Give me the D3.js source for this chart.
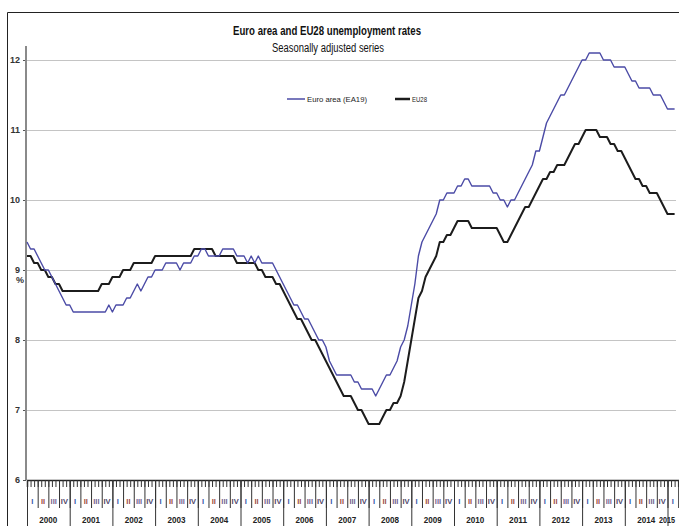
<!DOCTYPE html>
<html>
<head>
<meta charset="utf-8">
<script src="https://cdnjs.cloudflare.com/ajax/libs/d3/7.8.5/d3.min.js"></script>
<style>
  body { margin: 0; background: #fff; }
  svg { display: block; font-family: "Liberation Sans Narrow", "Arial Narrow", "Liberation Sans", Arial, sans-serif; }
</style>
</head>
<body>
<div id="chart"></div>
<script>
// monthly series, Jan 2000 .. Mar 2015
var yearLabels = ["2000", "2001", "2002", "2003", "2004", "2005", "2006", "2007",
                  "2008", "2009", "2010", "2011", "2012", "2013", "2014", "2015"];
var quarterLabels = ["I", "II", "III", "IV"];
var yTicks = [6, 7, 8, 9, 10, 11, 12];

var ea19 = [
  9.4, 9.3, 9.3, 9.2, 9.1, 9.0, 9.0, 8.9, 8.8, 8.7, 8.6, 8.5,         // 2000
  8.5, 8.4, 8.4, 8.4, 8.4, 8.4, 8.4, 8.4, 8.4, 8.4, 8.4, 8.5,         // 2001
  8.4, 8.5, 8.5, 8.5, 8.6, 8.6, 8.7, 8.8, 8.7, 8.8, 8.9, 8.9,         // 2002
  9.0, 9.0, 9.0, 9.1, 9.1, 9.1, 9.1, 9.0, 9.1, 9.1, 9.1, 9.2,         // 2003
  9.2, 9.3, 9.3, 9.2, 9.2, 9.2, 9.2, 9.3, 9.3, 9.3, 9.3, 9.2,         // 2004
  9.2, 9.2, 9.1, 9.2, 9.1, 9.2, 9.1, 9.1, 9.1, 9.1, 9.0, 8.9,         // 2005
  8.8, 8.7, 8.6, 8.5, 8.5, 8.4, 8.3, 8.3, 8.2, 8.1, 8.0, 8.0,         // 2006
  7.9, 7.7, 7.6, 7.5, 7.5, 7.5, 7.5, 7.5, 7.4, 7.4, 7.3, 7.3,         // 2007
  7.3, 7.3, 7.2, 7.3, 7.4, 7.5, 7.5, 7.6, 7.7, 7.9, 8.0, 8.2,         // 2008
  8.5, 8.8, 9.2, 9.4, 9.5, 9.6, 9.7, 9.8, 10.0, 10.0, 10.1, 10.1,     // 2009
  10.1, 10.2, 10.2, 10.3, 10.3, 10.2, 10.2, 10.2, 10.2, 10.2, 10.2, 10.1, // 2010
  10.1, 10.0, 10.0, 9.9, 10.0, 10.0, 10.1, 10.2, 10.3, 10.4, 10.5, 10.7,  // 2011
  10.7, 10.9, 11.1, 11.2, 11.3, 11.4, 11.5, 11.5, 11.6, 11.7, 11.8, 11.9, // 2012
  12.0, 12.0, 12.1, 12.1, 12.1, 12.1, 12.0, 12.0, 12.0, 11.9, 11.9, 11.9, // 2013
  11.9, 11.8, 11.7, 11.7, 11.6, 11.6, 11.6, 11.6, 11.5, 11.5, 11.5, 11.4, // 2014
  11.3, 11.3, 11.3                                                    // 2015
];

var eu28 = [
  9.2, 9.2, 9.1, 9.1, 9.0, 9.0, 8.9, 8.9, 8.8, 8.8, 8.7, 8.7,         // 2000
  8.7, 8.7, 8.7, 8.7, 8.7, 8.7, 8.7, 8.7, 8.7, 8.8, 8.8, 8.8,         // 2001
  8.9, 8.9, 8.9, 9.0, 9.0, 9.0, 9.1, 9.1, 9.1, 9.1, 9.1, 9.1,         // 2002
  9.2, 9.2, 9.2, 9.2, 9.2, 9.2, 9.2, 9.2, 9.2, 9.2, 9.2, 9.3,         // 2003
  9.3, 9.3, 9.3, 9.3, 9.3, 9.2, 9.2, 9.2, 9.2, 9.2, 9.2, 9.1,         // 2004
  9.1, 9.1, 9.1, 9.1, 9.1, 9.0, 9.0, 8.9, 8.9, 8.9, 8.8, 8.8,         // 2005
  8.7, 8.6, 8.5, 8.4, 8.3, 8.3, 8.2, 8.1, 8.0, 8.0, 7.9, 7.8,         // 2006
  7.7, 7.6, 7.5, 7.4, 7.3, 7.2, 7.2, 7.2, 7.1, 7.0, 7.0, 6.9,         // 2007
  6.8, 6.8, 6.8, 6.8, 6.9, 7.0, 7.0, 7.1, 7.1, 7.2, 7.4, 7.7,         // 2008
  8.0, 8.3, 8.6, 8.7, 8.9, 9.0, 9.1, 9.2, 9.4, 9.4, 9.5, 9.5,         // 2009
  9.6, 9.7, 9.7, 9.7, 9.7, 9.6, 9.6, 9.6, 9.6, 9.6, 9.6, 9.6,         // 2010
  9.6, 9.5, 9.4, 9.4, 9.5, 9.6, 9.7, 9.8, 9.9, 9.9, 10.0, 10.1,       // 2011
  10.2, 10.3, 10.3, 10.4, 10.4, 10.5, 10.5, 10.5, 10.6, 10.7, 10.8, 10.8, // 2012
  10.9, 11.0, 11.0, 11.0, 11.0, 10.9, 10.9, 10.9, 10.8, 10.8, 10.7, 10.7, // 2013
  10.6, 10.5, 10.4, 10.3, 10.3, 10.2, 10.2, 10.1, 10.1, 10.1, 10.0, 9.9,  // 2014
  9.8, 9.8, 9.8                                                       // 2015
];

var seriesNames = ["Euro area (EA19)", "EU28"];
var seriesColors = ["#4b4ba6", "#1c1c1c"];
var quarterColors = ["#3556a8", "#9a4a40", "#6f5f8f", "#4e4468"];

var W = 679, H = 526;
var svg = d3.select("#chart").append("svg")
  .attr("width", W)
  .attr("height", H);

svg.append("rect").attr("width", W).attr("height", H).attr("fill", "#fff");

// outer frame (only top and left edges are visible)
svg.append("path")
  .attr("d", "M7.5," + H + "V12.5H" + W)
  .attr("fill", "none")
  .attr("stroke", "#222")
  .attr("stroke-width", 1);

var nMonths = ea19.length;           // 183
var x = d3.scaleLinear().domain([0, 180]).range([27, 667.5]);
var y = d3.scaleLinear().domain([6, 12]).range([480, 60]);
var xAx = d3.scaleLinear().domain([0, nMonths]).range([x(0), x(nMonths)]);

// gridlines
svg.append("g").selectAll("line")
  .data(yTicks.filter(function (d) { return d > 6; }))
  .enter().append("line")
  .attr("x1", x(0)).attr("x2", 676)
  .attr("y1", function (d) { return Math.round(y(d)) + 0.5; })
  .attr("y2", function (d) { return Math.round(y(d)) + 0.5; })
  .attr("stroke", "#c4c4c4")
  .attr("stroke-width", 1.2);

// y axis
var yAxis = svg.append("g")
  .attr("transform", "translate(26,0)")
  .call(d3.axisLeft(y).tickValues(yTicks).tickSize(3).tickPadding(3).tickFormat(d3.format("d")));
yAxis.select(".domain").remove();
yAxis.selectAll(".tick line").attr("stroke", "#555");
yAxis.selectAll(".tick text")
  .attr("font-size", 9)
  .attr("font-weight", "bold")
  .attr("fill", "#333")
  .attr("font-family", "inherit");

svg.append("line")
  .attr("x1", 26).attr("x2", 26)
  .attr("y1", y(12.2)).attr("y2", y(6))
  .attr("stroke", "#8a8a8a")
  .attr("stroke-width", 2);

svg.append("text")
  .attr("x", 20).attr("y", 283)
  .attr("text-anchor", "middle")
  .attr("font-size", 9)
  .attr("font-weight", "bold")
  .attr("fill", "#333")
  .text("%");

// x axis: month, quarter and year ticks
function tickAxis(step, size) {
  var g = svg.append("g")
    .attr("transform", "translate(0,480)")
    .call(d3.axisBottom(xAx).tickValues(d3.range(0, nMonths + 1, step)).tickSize(size).tickFormat(""));
  g.selectAll(".tick line").attr("stroke", "#333").attr("stroke-width", 1);
  return g;
}
var monthAxis = tickAxis(1, 7);
monthAxis.select(".domain").attr("stroke", "#222").attr("stroke-width", 1.5);
tickAxis(3, 28).select(".domain").remove();
tickAxis(12, 46).select(".domain").remove();

// quarter labels
var quarters = d3.range(0, nMonths, 3);
svg.append("g").selectAll("text")
  .data(quarters)
  .enter().append("text")
  .attr("x", function (m) { return xAx(m + 1.5); })
  .attr("y", 504)
  .attr("text-anchor", "middle")
  .attr("font-size", 7.5)
  .attr("font-weight", "bold")
  .attr("fill", function (m) { return quarterColors[(m / 3) % 4]; })
  .text(function (m) { return quarterLabels[(m / 3) % 4]; });

// year labels (the last one is squeezed against the right edge, as in the source)
svg.append("g").selectAll("text")
  .data(yearLabels)
  .enter().append("text")
  .attr("x", function (d, i) {
    return i === yearLabels.length - 1 ? W - 4 : (xAx(i * 12) + xAx(Math.min(i * 12 + 12, nMonths))) / 2;
  })
  .attr("y", 523)
  .attr("text-anchor", function (d, i) { return i === yearLabels.length - 1 ? "end" : "middle"; })
  .attr("font-size", 9.5)
  .attr("font-weight", "bold")
  .attr("fill", "#222")
  .attr("textLength", function (d, i) { return i === yearLabels.length - 1 ? 16 : 18; })
  .attr("lengthAdjust", "spacingAndGlyphs")
  .text(function (d) { return d; });

// lines
var line = d3.line()
  .x(function (d, i) { return x(i); })
  .y(function (d) { return y(d); });

svg.append("path")
  .datum(eu28)
  .attr("d", line)
  .attr("fill", "none")
  .attr("stroke", seriesColors[1])
  .attr("stroke-width", 2)
  .attr("stroke-linejoin", "round");

svg.append("path")
  .datum(ea19)
  .attr("d", line)
  .attr("fill", "none")
  .attr("stroke", seriesColors[0])
  .attr("stroke-width", 1.4)
  .attr("stroke-linejoin", "round");

// titles (condensed to match the narrow face of the source)
svg.append("text")
  .attr("x", 327).attr("y", 35)
  .attr("text-anchor", "middle")
  .attr("font-size", 12)
  .attr("font-weight", "bold")
  .attr("fill", "#111")
  .attr("textLength", 188)
  .attr("lengthAdjust", "spacingAndGlyphs")
  .text("Euro area and EU28 unemployment rates");
svg.append("text")
  .attr("x", 328).attr("y", 52)
  .attr("text-anchor", "middle")
  .attr("font-size", 12)
  .attr("fill", "#111")
  .attr("textLength", 112)
  .attr("lengthAdjust", "spacingAndGlyphs")
  .text("Seasonally adjusted series");

// legend
var legendX = [287, 395];
var legend = svg.append("g").selectAll("g")
  .data(seriesNames)
  .enter().append("g")
  .attr("transform", function (d, i) { return "translate(" + legendX[i] + ",99)"; });
legend.append("line")
  .attr("x1", 0).attr("x2", function (d, i) { return i ? 15 : 18; })
  .attr("stroke", function (d, i) { return seriesColors[i]; })
  .attr("stroke-width", function (d, i) { return i ? 2.5 : 1.5; });
legend.append("text")
  .attr("x", function (d, i) { return i ? 17 : 20; })
  .attr("y", 2.5)
  .attr("font-size", 7.5)
  .attr("fill", "#222")
  .attr("textLength", function (d, i) { return i ? 15 : 60; })
  .attr("lengthAdjust", "spacingAndGlyphs")
  .text(function (d) { return d; });
</script>
</body>
</html>
